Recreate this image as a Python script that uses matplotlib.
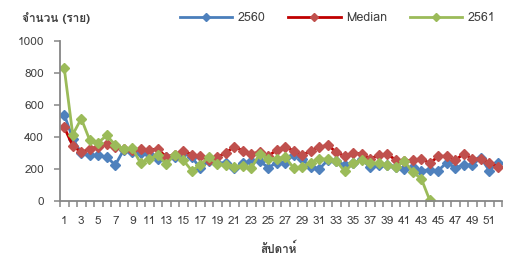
import matplotlib
matplotlib.use("Agg")
import matplotlib.pyplot as plt
import numpy as np
from matplotlib import font_manager, ft2font


WEEKS = list(range(1, 53))

Y2560 = [540, 390, 300, 285, 285, 275, 225, 320, 305, 300,
         295, 265, 275, 275, 300, 275, 205, 250, 235, 240,
         205, 235, 250, 250, 208, 240, 240, 290, 260, 215,
         200, 255, 250, 225, 235, 260, 210, 225, 225, 215,
         200, 215, 190, 195, 190, 240, 208, 225, 225, 270,
         190, 240]

MEDIAN = [460, 345, 305, 325, 340, 355, 335, 325, 320, 325,
          320, 325, 275, 290, 315, 290, 280, 255, 275, 300,
          340, 315, 295, 305, 280, 320, 335, 315, 285, 315,
          335, 350, 305, 280, 300, 295, 265, 285, 295, 255,
          250, 255, 265, 235, 280, 280, 255, 295, 265, 260,
          240, 215]

Y2561 = [830, 415, 515, 380, 365, 410, 350, 325, 330, 235,
         265, 285, 230, 290, 255, 190, 225, 275, 230, 225,
         215, 220, 205, 295, 265, 265, 275, 205, 215, 240,
         265, 260, 250, 185, 235, 255, 240, 235, 225, 210,
         250, 180, 140, 5]

Y_TICKS = [0, 200, 400, 600, 800, 1000]
X_LABELS = list(range(1, 53, 2))


def find_thai_font() -> str:
    # pick any installed font that actually has Thai glyphs
    for f in font_manager.fontManager.ttflist:
        try:
            cmap = ft2font.FT2Font(f.fname).get_charmap()
        except Exception:
            continue
        if 0x0E08 in cmap and 0x0E33 in cmap:
            return f.name
    return "DejaVu Sans"


def main() -> None:
    thai = find_thai_font()
    plt.rcParams["font.family"] = [thai, "DejaVu Sans"]

    fig = plt.figure(figsize=(5.15, 2.57), dpi=100)
    ax = fig.add_axes([60 / 515, 1 - 201 / 257, 442 / 515, 160 / 257])

    series = [
        (Y2560, "2560", "#4A7EBB", "#4F81BD"),
        (MEDIAN, "Median", "#C00000", "#C0504D"),
        (Y2561, "2561", "#9BBB59", "#9BBB59"),
    ]
    for vals, label, lc, mc in series:
        ax.plot(WEEKS[:len(vals)], vals, color=lc, lw=2.0, marker="D",
                ms=5, mfc=mc, mec=mc, label=label)

    ax.set_xlim(0.5, 52.5)
    ax.set_ylim(0, 1000)
    ax.set_yticks(Y_TICKS)
    ax.set_xticks(X_LABELS)
    ax.set_xticks(np.arange(0.5, 53, 1), minor=True)

    for side in ["top", "right"]:
        ax.spines[side].set_visible(False)
    for side in ["left", "bottom"]:
        ax.spines[side].set_color("#868686")
        ax.spines[side].set_linewidth(1.3)

    ax.tick_params(axis="y", length=4.5, width=1.1, color="#868686", pad=7,
                   labelsize=8.5, labelcolor="#404040")
    ax.tick_params(axis="x", which="major", length=0, pad=11,
                   labelsize=8.5, labelcolor="#404040")
    ax.tick_params(axis="x", which="minor", length=4, width=1.1, color="#868686")

    fig.text(22 / 515, 1 - 17.5 / 257, "จำนวน (ราย)", fontsize=8.5,
             fontweight="bold", color="#404040", ha="left", va="center")
    fig.text(279 / 515, 1 - 248 / 257, "สัปดาห์", fontsize=8.5,
             fontweight="bold", color="#404040", ha="center", va="center")

    leg = ax.legend(loc="center right", bbox_to_anchor=(502 / 515, 1 - 18.3 / 257),
                    bbox_transform=fig.transFigure, ncol=3, frameon=False,
                    fontsize=9, handlelength=4.2, handletextpad=0.45,
                    columnspacing=1.8, borderpad=0, markerscale=0.8)
    for t in leg.get_texts():
        t.set_color("#404040")

    fig.savefig("out.png", dpi=100)
    plt.close(fig)


if __name__ == "__main__":
    main()
